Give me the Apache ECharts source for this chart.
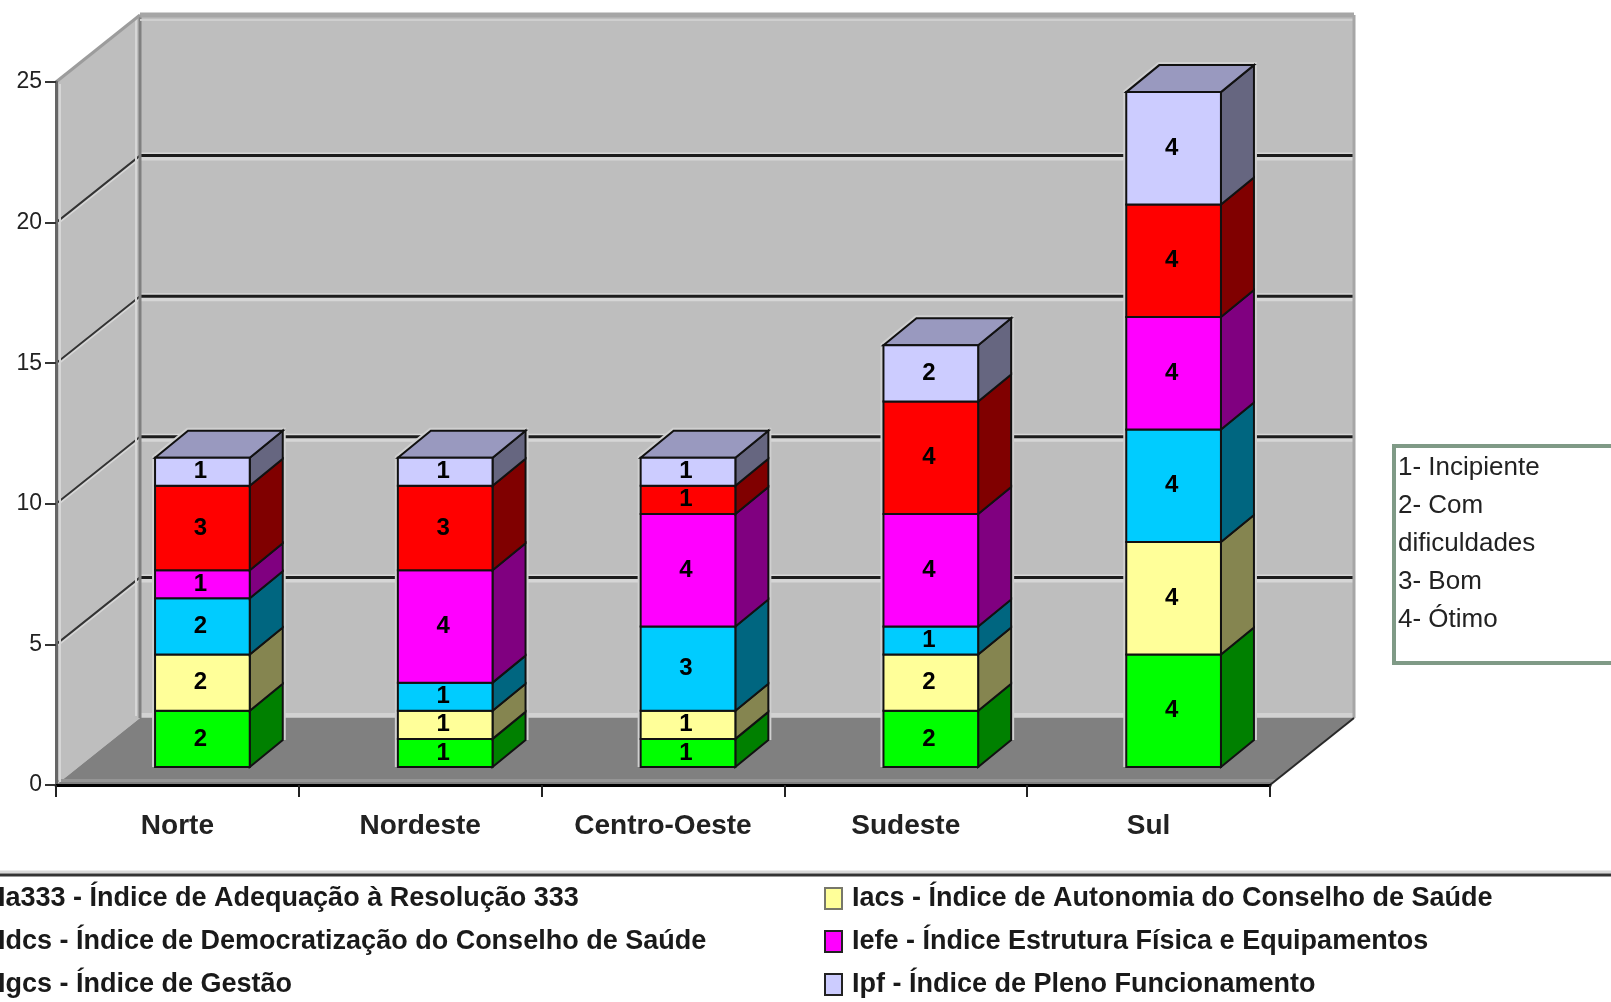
<!DOCTYPE html>
<html><head><meta charset="utf-8">
<style>html,body{margin:0;padding:0;background:#fff}#c{width:1611px;height:1002px}</style>
<script src="https://cdn.jsdelivr.net/npm/echarts@6/dist/echarts.min.js"></script>
</head><body><div id="c"></div>
<script>
const categories = ['Norte','Nordeste','Centro-Oeste','Sudeste','Sul'];
const ia333 = [2,1,1,2,4];
const iacs  = [2,1,1,2,4];
const idcs  = [2,1,3,1,4];
const iefe  = [1,4,4,4,4];
const igcs  = [3,3,1,4,4];
const ipf   = [1,1,1,2,4];
const seriesNames = [
  'Ia333 - Índice de Adequação à Resolução 333',
  'Iacs - Índice de Autonomia do Conselho de Saúde',
  'Idcs - Índice de Democratização do Conselho de Saúde',
  'Iefe - Índice Estrutura Física e Equipamentos',
  'Igcs - Índice de Gestão',
  'Ipf - Índice de Pleno Funcionamento'
];
const seriesValues = [ia333, iacs, idcs, iefe, igcs, ipf];
const frontColors = ['#00FF00','#FFFF99','#00CCFF','#FF00FF','#FF0000','#CCCCFF'];
const sideColors  = ['#008000','#858550','#006680','#800080','#800000','#666680'];
const topColor = '#9999BF';
const noteLines = ['1- Incipiente','2- Com','dificuldades','3- Bom','4- Ótimo'];

const WALL_DX = 84, WALL_DY = 67;      // depth of the chart box
const BAR_DX = 33, BAR_DY = 27;        // depth of a bar
const BAR_SHIFT_X = 25, BAR_SHIFT_Y = 18; // bar's place inside the box
const BAR_WIDTH_SHARE = 0.39;

function poly(points, fill, stroke, lw){
  return {type:'polygon', shape:{points}, style:{fill, stroke:stroke||'none', lineWidth:lw||0, lineJoin:'miter'}};
}
function line(x1,y1,x2,y2,stroke,lw){
  return {type:'line', shape:{x1,y1,x2,y2}, style:{stroke, lineWidth:lw, fill:'none'}};
}

function renderWalls(params, api){
  const cs = params.coordSys;
  const l = cs.x, r = cs.x + cs.width;
  const y0 = api.coord([0,0])[1], yTop = api.coord([0,25])[1];
  const dx = WALL_DX, dy = WALL_DY;
  const ch = [];
  ch.push(poly([[l,y0],[l+dx,y0-dy],[l+dx,yTop-dy],[l,yTop]], '#BEBEBE'));
  ch.push(poly([[l+dx,y0-dy],[r+dx,y0-dy],[r+dx,yTop-dy],[l+dx,yTop-dy]], '#BEBEBE'));
  ch.push(poly([[l,y0],[r,y0],[r+dx,y0-dy],[l+dx,y0-dy]], '#808080'));
  ch.push(poly([[l,y0-3],[r+4,y0-3],[r+8,y0-6],[l+4,y0-6]], '#959595'));
  ch.push(line(l+dx-1,y0-dy-3,r+dx-1,y0-dy-3,'#D2D2D2',4));
  // gridlines on both walls
  [5,10,15,20].forEach(v=>{
    const y = api.coord([0,v])[1];
    ch.push(line(l+dx,y-dy+1,r+dx,y-dy+1,'#D6D6D6',8));
    ch.push(line(l,y+1,l+dx,y-dy+1,'#D6D6D6',4));
    ch.push(line(l,y,l+dx,y-dy,'#333333',2));
    ch.push(line(l+dx,y-dy,r+dx,y-dy,'#1c1c1c',3));
  });
  // wall edges
  ch.push(line(l+dx,yTop-dy,l+dx,y0-dy,'#808080',3));
  ch.push(line(l+dx-4,yTop-dy+2,l+dx-4,y0-dy-2,'#D6D6D6',2));
  ch.push(line(l+dx,yTop-dy,r+dx,yTop-dy,'#A6A6A6',5));
  ch.push(line(l+dx,yTop-dy+5,r+dx,yTop-dy+5,'#CFCFCF',2));
  ch.push(line(l,yTop,l+dx,yTop-dy,'#9C9C9C',3));
  ch.push(line(r+dx,yTop-dy,r+dx,y0-dy,'#A6A6A6',3));
  ch.push(line(l+4,yTop+2,l+4,y0-3,'#D6D6D6',2));
  ch.push(line(r,y0,r+dx,y0-dy,'#2a2a2a',2));
  return {type:'group', children:ch};
}

function barBox(api, i, start, end){
  const w = api.size([1,0])[0] * BAR_WIDTH_SHARE;
  const p0 = api.coord([i,start]), p1 = api.coord([i,end]);
  const xl = p0[0] + BAR_SHIFT_X - w/2;
  return {xl, xr:xl+w, yb:p0[1]-BAR_SHIFT_Y, yt:p1[1]-BAR_SHIFT_Y};
}

function renderHalo(params, api){
  const b = barBox(api, api.value(0), 0, api.value(1));
  return {type:'polyline', shape:{points:[[b.xl,b.yb],[b.xl,b.yt],[b.xl+BAR_DX,b.yt-BAR_DY],[b.xr+BAR_DX,b.yt-BAR_DY],[b.xr+BAR_DX,b.yb-BAR_DY]]},
    style:{fill:'none', stroke:'#D0D0D0', lineWidth:6}};
}

function makeBarRenderer(si){
  return function(params, api){
    const val = api.value(3);
    const {xl,xr,yb,yt} = barBox(api, api.value(0), api.value(1), api.value(2));
    const ch = [];
    ch.push(poly([[xr,yb],[xr+BAR_DX,yb-BAR_DY],[xr+BAR_DX,yt-BAR_DY],[xr,yt]], sideColors[si], '#111', 2));
    if(si === seriesValues.length-1){
      ch.push(poly([[xl,yt],[xl+BAR_DX,yt-BAR_DY],[xr+BAR_DX,yt-BAR_DY],[xr,yt]], topColor, '#111', 2));
    }
    ch.push({type:'rect', shape:{x:xl,y:yt,width:xr-xl,height:yb-yt}, style:{fill:frontColors[si], stroke:'#111', lineWidth:2}});
    ch.push({type:'text', style:{text:String(val), x:(xl+xr)/2-2, y:(yt+yb)/2, align:'center', verticalAlign:'middle',
      font:'bold 24px "Liberation Sans"', fill:'#000'}});
    return {type:'group', children:ch};
  };
}

let stack = categories.map(()=>0);
const barSeries = seriesValues.map((vals,si)=>{
  const data = vals.map((v,i)=>{ const s = stack[i]; stack[i] += v; return [i,s,stack[i],v]; });
  return {type:'custom', name:seriesNames[si], coordinateSystem:'cartesian2d', z:5+si,
    itemStyle:{color:frontColors[si]}, encode:{x:0,y:[1,2]}, silent:true,
    renderItem:makeBarRenderer(si), data};
});

const legendBase = {orient:'vertical', itemWidth:17, itemHeight:21, itemGap:16, icon:'rect', selectedMode:false,
  padding:0, textStyle:{fontFamily:'Liberation Sans', fontWeight:'bold', fontSize:27, color:'#1a1a1a', padding:[0,0,0,5]}};
function legendData(idx){
  return idx.map(k=>({name:seriesNames[k], itemStyle:{color:frontColors[k], borderColor:k===1?'#77776a':'#222', borderWidth:2}}));
}

const chart = echarts.init(document.getElementById('c'), null, {renderer:'canvas'});
chart.setOption({
  animation:false,
  backgroundColor:'#fff',
  grid:{left:56, right:341, top:82, height:703, containLabel:false},
  xAxis:{type:'category', data:categories, boundaryGap:true,
    axisLine:{lineStyle:{color:'#000',width:3}},
    axisTick:{show:true, length:12, lineStyle:{color:'#222',width:2}},
    axisLabel:{margin:27, fontFamily:'Liberation Sans', fontWeight:'bold', fontSize:28, color:'#222'}, z:20},
  yAxis:{type:'value', min:0, max:25, interval:5,
    splitLine:{show:false},
    axisLine:{show:true, lineStyle:{color:'#666',width:3}},
    axisTick:{show:true, length:11, lineStyle:{color:'#333',width:2}},
    axisLabel:{margin:14, fontFamily:'Liberation Sans', fontSize:23, color:'#222'}, z:20},
  legend:[
    Object.assign({}, legendBase, {left:-30, top:885, data:legendData([0,2,4])}),
    Object.assign({}, legendBase, {left:824, top:885, data:legendData([1,3,5])})
  ],
  graphic:[
    {type:'line', shape:{x1:0,y1:872,x2:1611,y2:872}, style:{stroke:'#D8D8D8',lineWidth:3}},
    {type:'line', shape:{x1:0,y1:875,x2:1611,y2:875}, style:{stroke:'#333',lineWidth:3}},
    {type:'rect', shape:{x:1394,y:446,width:240,height:217}, style:{fill:'#fff',stroke:'#7F9A86',lineWidth:4}},
    {type:'text', x:1398, y:449, style:{text:noteLines.join('\n'), font:'26px "Liberation Sans"', lineHeight:38, fill:'#222', align:'left', verticalAlign:'top'}}
  ],
  series:[
    {type:'custom', coordinateSystem:'cartesian2d', z:1, silent:true, renderItem:renderWalls, data:[[0,0]], encode:{x:0,y:1}},
    {type:'custom', coordinateSystem:'cartesian2d', z:2, silent:true, renderItem:renderHalo, data:stack.map((t,i)=>[i,t]), encode:{x:0,y:1}},
    ...barSeries
  ]
});
</script></body></html>
